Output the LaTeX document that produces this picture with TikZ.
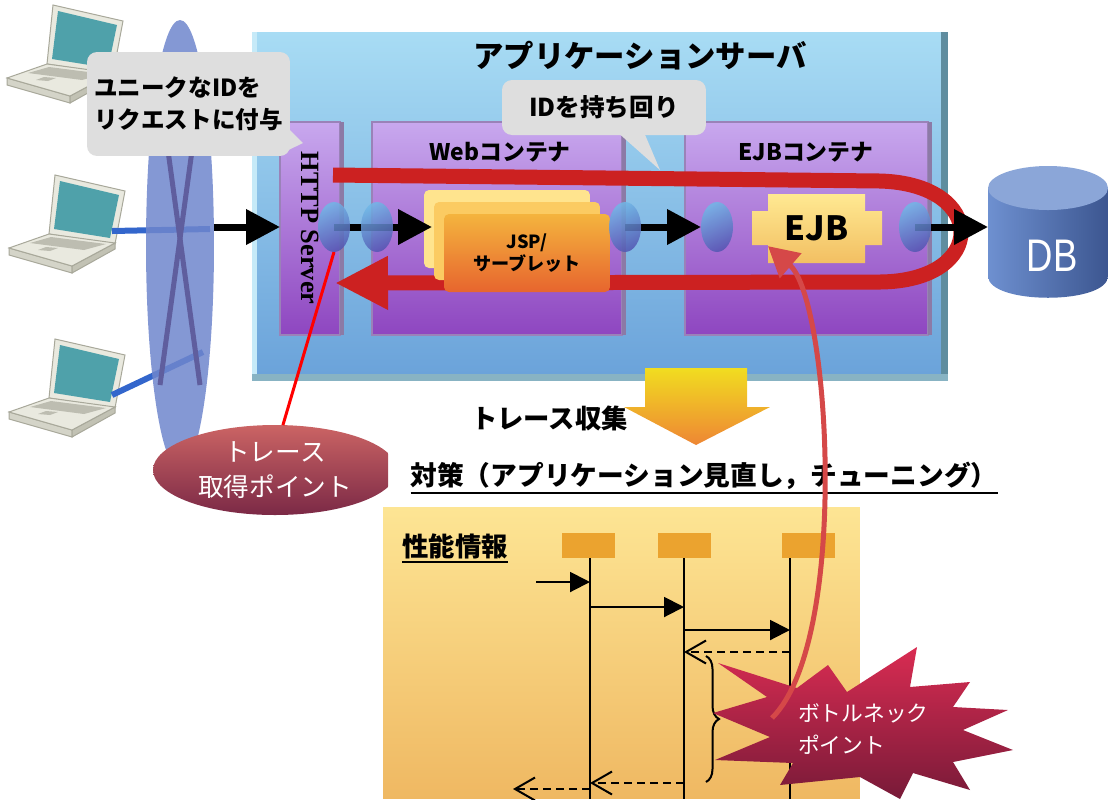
\documentclass[tikz,border=0pt]{standalone}
\usepackage{fontspec}
\setmainfont{Noto Sans CJK JP}
\newfontfamily\hsfont{Liberation Serif}
\newfontfamily\dbfont[FakeStretch=0.8]{Liberation Sans}
\usetikzlibrary{arrows.meta,shapes.geometric,decorations.pathreplacing,calc}

\definecolor{srvA}{HTML}{A8DCF4}
\definecolor{srvB}{HTML}{6BA3DA}
\definecolor{srvRight}{HTML}{5F8D9F}
\definecolor{srvBottom}{HTML}{88B3C3}
\definecolor{srvLight}{HTML}{C6EAF8}
\definecolor{contA}{HTML}{C8A8EE}
\definecolor{contB}{HTML}{8E46C0}
\definecolor{contEdge}{HTML}{9A82B8}
\definecolor{contSide}{HTML}{8C7AA6}
\definecolor{netblue}{HTML}{6F86CC}
\definecolor{netline}{HTML}{5F5E9E}
\definecolor{lan}{HTML}{3366CC}
\definecolor{portA}{HTML}{70B6E6}
\definecolor{portB}{HTML}{5356B2}
\definecolor{loopred}{HTML}{CC2121}
\definecolor{jspA}{HTML}{FFE48E}
\definecolor{jspB}{HTML}{FBCB62}
\definecolor{jspC}{HTML}{F4B43E}
\definecolor{jspD}{HTML}{E7652E}
\definecolor{ejbA}{HTML}{FFE992}
\definecolor{ejbB}{HTML}{F2BF62}
\definecolor{dbA}{HTML}{6E90D0}
\definecolor{dbB}{HTML}{3C5690}
\definecolor{dbTop}{HTML}{8BA6D8}
\definecolor{callA}{HTML}{DEDEDE}
\definecolor{trA}{HTML}{CB6464}
\definecolor{trB}{HTML}{7B2946}
\definecolor{arrA}{HTML}{F1DD20}
\definecolor{arrB}{HTML}{EE8634}
\definecolor{pfA}{HTML}{FDE594}
\definecolor{pfB}{HTML}{EFB862}
\definecolor{lifeA}{HTML}{EBA32F}
\definecolor{bnA}{HTML}{D92C52}
\definecolor{bnB}{HTML}{781A38}
\definecolor{bnline}{HTML}{D54848}
\definecolor{lapbody}{HTML}{E9E9DF}
\definecolor{lapline}{HTML}{A8A89A}
\definecolor{lapscreen}{HTML}{4FA1AA}
\definecolor{lapside}{HTML}{D4D4C8}
\definecolor{lapdark}{HTML}{C2C2B4}
\definecolor{lapkeys}{HTML}{BDBDB1}

\newcommand{\fsz}[2]{\fontsize{#1}{#2}\selectfont}

\pgfdeclarelayer{ports}
\pgfsetlayers{main,ports}

\tikzset{
  laptop/.pic={
    % lid
    \filldraw[fill=lapbody, draw=lapline, line width=0.02cm] (53,5) -- (123,21) -- (113,74) -- (47,64) -- cycle;
    \fill[lapscreen] (58,11) -- (117,25) -- (108,68) -- (52,59) -- cycle;
    % base
    \filldraw[fill=lapside, draw=lapline, line width=0.02cm] (7,78) -- (70,96) -- (70,103) -- (7,85) -- cycle;
    \filldraw[fill=lapdark, draw=lapline, line width=0.02cm] (70,96) -- (113,73) -- (113,79) -- (70,103) -- cycle;
    \filldraw[fill=lapbody, draw=lapline, line width=0.02cm] (7,78) -- (47,64) -- (113,73) -- (70,96) -- cycle;
    \fill[lapkeys] (49,67) -- (104,74) -- (82,80) -- (28,73) -- cycle;
    \fill[lapkeys] (44,77) -- (56,78) -- (48,81) -- (36,80) -- cycle;
    \coordinate (-port) at (110,61);
  },
  flow/.style={line width=0.14cm, -{Triangle[length=0.68cm,width=0.68cm]}},
  port/.style={ellipse, minimum width=0.64cm, minimum height=1cm,
    top color=portA, bottom color=portB, shading angle=25, fill opacity=0.85},
  cont/.style={rectangle, minimum height=4.26cm, top color=contA, bottom color=contB,
    draw=contEdge, line width=0.03cm},
  jspcard/.style={rectangle, rounded corners=0.1cm, minimum width=3.32cm, minimum height=1.56cm},
  callout/.style={rectangle, rounded corners=0.2cm, fill=callA},
  call/.style={line width=0.04cm, -{Triangle[length=0.4cm,width=0.4cm]}},
  reply/.style={line width=0.04cm, dash pattern=on 0.16cm off 0.1cm,
    -{Straight Barb[length=0.4cm,width=0.46cm]}},
  lifehead/.style={rectangle, minimum width=1.06cm, minimum height=0.5cm, fill=lifeA},
}

\begin{document}
\begin{tikzpicture}[x=0.02cm, y=-0.02cm, every node/.style={inner sep=0pt, outer sep=0pt}]
\useasboundingbox (0,0) rectangle (1108,799);

% Clients
\pic (lap1) at (0,0) {laptop};
\pic (lap2) at (2,170) {laptop};
\pic (lap3) at (2,334) {laptop};
\coordinate (hub2) at (210,229);
\coordinate (hub3) at (203,352);
\draw[lan, line width=0.12cm] (lap2-port) -- (hub2);
\draw[lan, line width=0.12cm] (lap3-port) -- (hub3);

% Application server
\node[rectangle, minimum width=13.78cm, minimum height=6.84cm, top color=srvA, bottom color=srvB] (srv) at (596.5,203) {};
\fill[srvRight] (srv.north east) rectangle ($(srv.south east)+(7,7)$);
\fill[srvBottom] (srv.south west) rectangle ($(srv.south east)+(7,7)$);
\fill[srvLight] (srv.north west) rectangle ($(srv.south west)+(5,0)$);
\node[font=\bfseries\fsz{17.3pt}{20pt}] (srvtitle) at (640,56) {アプリケーションサーバ};

% Containers
\node[cont, minimum width=1.2cm] (http) at (310,228.5) {};
\node[cont, minimum width=5cm] (web) at (497,228.5) {};
\node[cont, minimum width=4.86cm] (ejbc) at (806.5,228.5) {};
\foreach \c in {http, web, ejbc}
  \fill[contSide] (\c.north east) rectangle ($(\c.south east)+(4,0)$);
\node[rotate=-90, font=\hsfont\bfseries\fsz{15pt}{17pt}] (httptxt) at (310,228) {HTTP Server};
\node[font=\bfseries\fsz{13pt}{15pt}] (webtitle) at (500,152) {Webコンテナ};
\node[font=\bfseries\fsz{13pt}{15pt}] (ejbtitle) at (806,152) {EJBコンテナ};

% Network
\node[ellipse, minimum width=1.36cm, minimum height=9cm, fill=netblue, fill opacity=0.85] (net) at (180,245) {};
\draw[netline, line width=0.1cm] (157,70) -- (200,385);
\draw[netline, line width=0.1cm] (203,70) -- (160,385);

% ID round trip
\coordinate (idstart) at (333,175);
\coordinate (idback) at (335,283);
\draw[loopred, line width=0.3cm, -{Triangle[length=1.06cm,width=1.0cm]}]
  (idstart) -- (880,181) .. controls (988,184) and (988,281) .. (880,282) -- (idback);

% Components
\node[jspcard, fill=jspA] (jsp3) at (507,229) {};
\node[jspcard, fill=jspB] (jsp2) at (517,241) {};
\node[jspcard, top color=jspC, bottom color=jspD, align=center, font=\bfseries\fsz{10.3pt}{13pt}] (jsp) at (527,253) {JSP/\\サーブレット};
\shade[top color=ejbA, bottom color=ejbB] (768,194) rectangle (865,263) (752,211) rectangle (882,245);
\node[minimum width=1.94cm, minimum height=1.38cm, font=\bfseries\fsz{19pt}{22pt}] (ejb) at (816.5,228.5) {EJB};

% DB
\shade[left color=dbA, right color=dbB] (988,188) -- (988,276) .. controls (988,305) and (1108,305) .. (1108,276) -- (1108,188) -- cycle;
\fill[dbTop] (1048,188) ellipse [x radius=60, y radius=22];
\node[minimum width=2.4cm, minimum height=2.64cm] (db) at (1048,232) {};
\node[text=white, font=\dbfont\fsz{26pt}{28pt}] (dbtxt) at (1052,256) {DB};

% Ports
\begin{pgfonlayer}{ports}
\node[port] (sv1) at (334,227) {};
\node[port] (sv2) at (377,227) {};
\node[port] (sv3) at (625,227) {};
\node[port] (sv4) at (717,227) {};
\node[port] (sv5) at (915,227) {};
\end{pgfonlayer}

% Request flow
\draw[flow] (net.east |- sv1) -- (http.west |- sv1);
\draw[flow] (sv1.center) -- ($(jsp3.west |- sv1)+(8,0)$);
\draw[flow] (sv3.center) -- (sv4.west);
\draw[flow] (sv5.center) -- (db.west |- sv5);

% Callouts
\fill[callA] (288,128) -- (303,143) -- (276,156) -- cycle;
\node[callout, minimum width=4.06cm, minimum height=2.08cm, align=left, font=\bfseries\fsz{13.4pt}{18pt}] (idtag) at (188.5,104) {ユニークなIDを\\リクエストに付与};
\fill[callA] (615,130) -- (660,170) -- (643,130) -- cycle;
\node[callout, minimum width=4.08cm, minimum height=1.1cm, font=\bfseries\fsz{14pt}{16pt}] (idcarry) at (604,107.5) {IDを持ち回り};

% Trace point
\begin{scope}
\clip (100,400) rectangle (388,530);
\node[ellipse, minimum width=4.88cm, minimum height=1.8cm, top color=trA, bottom color=trB, text=white, align=center, font=\fsz{14.6pt}{20pt}] (tracept) at (275,470) {トレース\\取得ポイント};
\end{scope}
\draw[red, line width=0.06cm] (sv1.south) -- (tracept.80);

% Collection
\shade[top color=arrA, bottom color=arrB] (645,368) -- (747,368) -- (747,407) -- (770,407) -- (696,445) -- (624,407) -- (645,407) -- cycle;
\node[anchor=east, font=\bfseries\fsz{15pt}{18pt}] (collect) at (628,418) {トレース収集};
\node[font=\bfseries\fsz{15.2pt}{18pt}] (measure) at (704,476) {対策（アプリケーション見直し，チューニング）};
\draw[line width=0.04cm] ($(measure.base west)+(0,7)$) -- ($(measure.base east)+(0,7)$);

% Performance info
\node[rectangle, minimum width=9.54cm, minimum height=5.84cm, top color=pfA, bottom color=pfB] (perf) at (621.5,653) {};
\node[font=\bfseries\fsz{15pt}{18pt}] (perftitle) at (455,546) {性能情報};
\draw[line width=0.04cm] ($(perftitle.base west)+(0,6)$) -- ($(perftitle.base east)+(0,6)$);
\node[lifehead] (ll1) at (588,545.5) {};
\node[lifehead] (ll2) at (684.5,545.5) {};
\node[lifehead] (ll3) at (808.5,545.5) {};
\coordinate (b1) at (590,799);
\coordinate (b2) at (684,799);
\coordinate (b3) at (790,799);
\foreach \h/\b in {ll1/b1, ll2/b2, ll3/b3}
  \draw[line width=0.04cm] (\h.south -| \b) -- (\b);
\coordinate (m0) at (536,582);
\coordinate (r2) at (0,607);
\coordinate (r3) at (0,630);
\coordinate (r4) at (0,652);
\coordinate (r5) at (0,783);
\coordinate (m6) at (513,789);
\draw[call] (m0) -- (b1 |- m0);
\draw[call] (b1 |- r2) -- (b2 |- r2);
\draw[call] (b2 |- r3) -- (b3 |- r3);
\draw[reply] (b3 |- r4) -- (b2 |- r4);
\draw[reply] (b2 |- r5) -- (b1 |- r5);
\draw[reply] (b1 |- m6) -- (m6);
\draw[decorate, decoration={brace, amplitude=0.26cm}, line width=0.04cm] (706,656) -- (706,782);

% Bottleneck
\shade[top color=bnA, bottom color=bnB] (718,663) -- (797,688) -- (828,665) -- (847,692) -- (917,647) -- (910,687)
  -- (970,682) -- (953,707) -- (1008,710) -- (963,730) -- (1013,750) -- (953,762) -- (970,790) -- (913,773)
  -- (900,799) -- (860,777) -- (780,785) -- (793,763) -- (715,760) -- (770,737) -- (713,713) -- (767,697) -- cycle;
\node[anchor=west, text=white, align=left, font=\fsz{12.4pt}{18pt}] (bneck) at (798,729) {ボトルネック\\ポイント};
\coordinate (bnstart) at (772,718);
\draw[bnline, line width=0.1cm, -{Triangle[length=0.6cm,width=0.64cm]}]
  (bnstart) .. controls (850,640) and (830,300) .. (ejb.200);
\end{tikzpicture}
\end{document}
